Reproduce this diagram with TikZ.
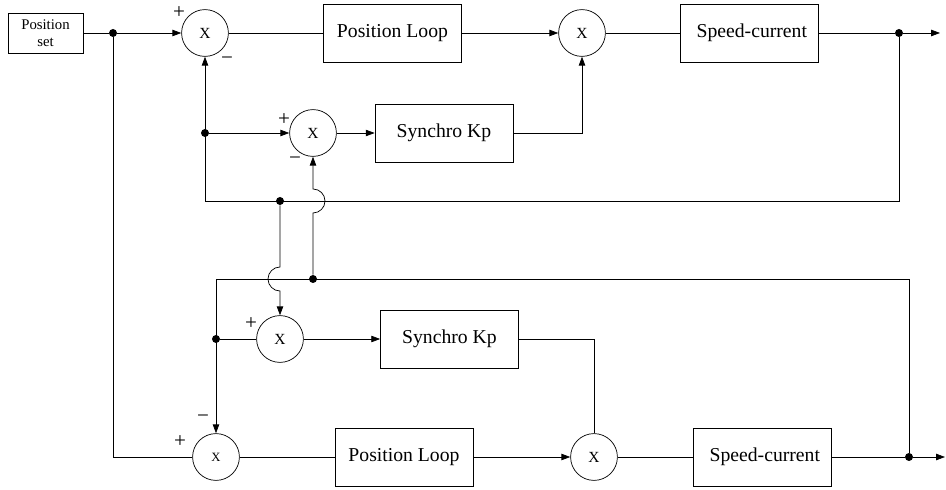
\documentclass[tikz,border=0pt]{standalone}
\usepackage{fontspec}
\setmainfont{Liberation Serif}
\usepackage{tikz}
\usetikzlibrary{arrows.meta,positioning,calc}

\begin{document}
\begin{tikzpicture}[x=0.025cm,y=-0.025cm,line width=0.5pt,
    >={Triangle[length=2.2mm,width=1.6mm]},
    blk/.style={draw,minimum width=3.45cm,minimum height=1.45cm,font=\fontsize{14}{16}\selectfont},
    sumnode/.style={draw,circle,minimum size=1.17cm,inner sep=0pt,font=\fontsize{11}{12}\selectfont},
    dot/.style={circle,fill,inner sep=0pt,minimum size=0.2cm},
    sgn/.style={font=\fontsize{15}{16}\selectfont,inner sep=0pt}]
  \useasboundingbox (0,0) rectangle (946,490);

  % upper axis
  \node[draw,minimum width=1.875cm,minimum height=1.0cm,align=center,
        font=\fontsize{10.5}{12}\selectfont] (pset) at (45.5,33) {Position\\set};
  \node[dot] (d1) at (113,33) {};
  \node[sumnode] (c1) at (205,33) {X};
  \node[blk] (pl1) at (392.5,33) {Position Loop};
  \node[sumnode] (c2) at (582,33) {X};
  \node[blk] (sc1) at (749,33) {\hspace{4pt}Speed-current};
  \node[dot] (d2) at (899,33) {};
  \coordinate (out1) at (940,33);

  \node[dot] (d3) at (205,133) {};
  \node[sumnode] (c3) at (313,133) {X};
  \node[blk] (sk1) at (444,133) {Synchro Kp};
  \node[dot] (d4) at (280,201) {};

  % lower axis
  \node[dot] (d5) at (313,279) {};
  \node[dot] (d6) at (216,339) {};
  \node[sumnode] (c4) at (280,339) {X};
  \node[blk] (sk2) at (449.5,339) {Synchro Kp};
  \node[sumnode,font=\fontsize{9}{10}\selectfont] (c6) at (216,457) {X};
  \node[blk] (pl2) at (404,457) {Position Loop};
  \node[sumnode] (c5) at (594,457) {X};
  \node[blk] (sc2) at (762,457) {\hspace{4pt}Speed-current};
  \node[dot] (d7) at (909,457) {};
  \coordinate (out2) at (945,457);

  % signs
  \node[sgn] at (179,13) {+};
  \node[sgn] at (227,61) {−};
  \node[sgn] at (284,120) {+};
  \node[sgn] at (295,161) {−};
  \node[sgn] at (251,324) {+};
  \node[sgn] at (203,419) {−};
  \node[sgn] at (180,442) {+};

  % forward paths
  \draw[->] (pset) -- (d1) -- (c1);
  \draw (c1) -- (pl1);
  \draw[->] (pl1) -- (c2);
  \draw (c2) -- (sc1);
  \draw[->] (sc1) -- (d2) -- (out1);
  \draw (d1) |- (c6);
  \draw (c6) -- (pl2);
  \draw[->] (pl2) -- (c5);
  \draw (c5) -- (sc2);
  \draw[->] (sc2) -- (d7) -- (out2);

  % feedback of upper axis
  \draw[->] (d2) -- (899,201) -- (205,201) -- (c1.south);
  \draw[->] (d3) -- (c3);
  \draw[->] (c3) -- (sk1);
  \draw[->] (sk1.east) -| (c2.south);

  % feedback of lower axis
  \draw[->] (d7) -- (909,279) -- (216,279) -- (c6.north);
  \draw (d6) -- (c4);
  \draw[->] (c4) -- (sk2);
  \draw (sk2.east) -| (c5.north);

  % cross links with hops
  \draw[->] (d5) -- (313,213) arc[start angle=-90,end angle=90,radius=0.3cm] -- (c3.south);
  \draw[->] (d4) -- (280,267) arc[start angle=90,end angle=270,radius=0.3cm] -- (c4.north);
\end{tikzpicture}
\end{document}
